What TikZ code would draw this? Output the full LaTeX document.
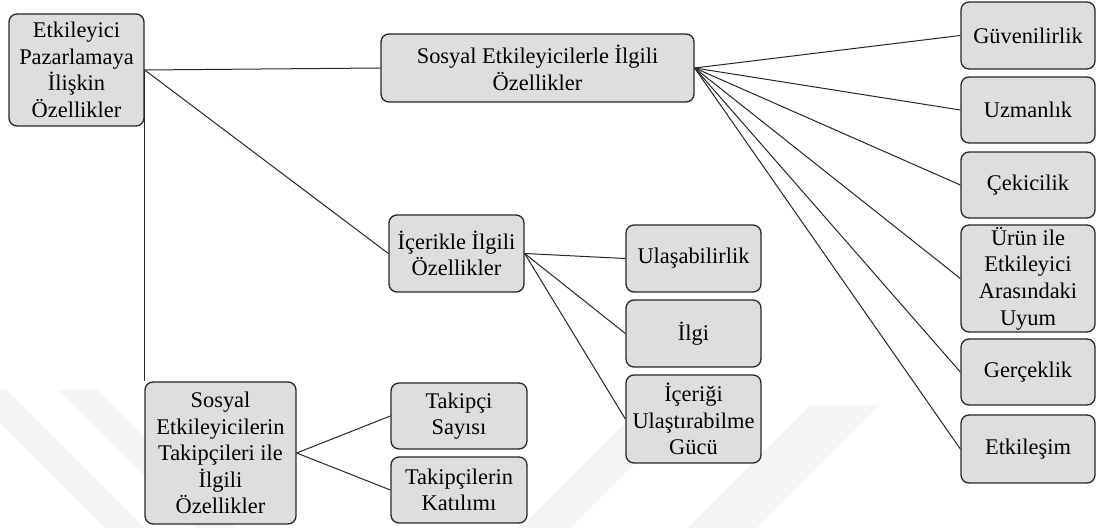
\documentclass[tikz,border=0pt]{standalone}
\usepackage{fontspec}
\setmainfont{Liberation Serif}
\begin{document}
\begin{tikzpicture}[x=0.5pt,y=-0.5pt,
  box/.style={draw=black!85, line width=0.65pt, fill=black!13, rounded corners=4pt,
    inner sep=0pt, align=center, font=\fontsize{11.2pt}{13.3pt}\selectfont},
  link/.style={draw=black!85, line width=0.5pt}]
\useasboundingbox (0,0) rectangle (1097,528);

% faint chevron bands in the background
\begin{scope}[fill=black!4]
  \fill (-33,390) -- (7,390) -- (145,528) -- (105,528) -- cycle;
  \fill (57,390) -- (97,390) -- (235,528) -- (195,528) -- cycle;
  \fill (520,528) -- (570,528) -- (708,390) -- (658,390) -- cycle;
  \fill (687,528) -- (757,528) -- (880,405) -- (810,405) -- cycle;
\end{scope}

% root
\node[box, minimum width=67.5pt, minimum height=56pt] (root) at (76.5,70)
  {Etkileyici\\Pazarlamaya\\İlişkin\\Özellikler};

% second level
\node[box, minimum width=156.5pt, minimum height=34pt] (infl) at (537.5,68)
  {Sosyal Etkileyicilerle İlgili\\Özellikler};
\node[box, minimum width=67.5pt, minimum height=38.5pt] (cont) at (456.5,253.5)
  {İçerikle İlgili\\Özellikler};
\node[box, minimum width=75.5pt, minimum height=71pt] (foll) at (220.5,453)
  {Sosyal\\Etkileyicilerin\\Takipçileri ile\\İlgili\\Özellikler};

% influencer attributes
\node[box, minimum width=67pt, minimum height=33.5pt] (guv) at (1028,35.5) {Güvenilirlik};
\node[box, minimum width=67pt, minimum height=33pt] (uzm) at (1028,110) {Uzmanlık};
\node[box, minimum width=67pt, minimum height=33pt] (cek) at (1028,185) {Çekicilik};
\node[box, minimum width=67pt, minimum height=53.5pt] (uyum) at (1028,278.5)
  {Ürün ile\\Etkileyici\\Arasındaki\\Uyum};
\node[box, minimum width=67pt, minimum height=33pt] (gerc) at (1028,372) {Gerçeklik};
\node[box, minimum width=67pt, minimum height=34pt] (etk) at (1028,449) {Etkileşim};

% content attributes
\node[box, minimum width=67.5pt, minimum height=33.5pt] (ulas) at (693.5,258.5) {Ulaşabilirlik};
\node[box, minimum width=67.5pt, minimum height=33.5pt] (ilgi) at (693.5,333.5) {İlgi};
\node[box, minimum width=67.5pt, minimum height=44pt] (guc) at (693.5,419)
  {İçeriği\\Ulaştırabilme\\Gücü};

% follower attributes
\node[box, minimum width=68pt, minimum height=33pt] (say) at (459,416) {Takipçi\\Sayısı};
\node[box, minimum width=68pt, minimum height=33pt] (kat) at (459,490) {Takipçilerin\\Katılımı};

% connectors
\draw[link] (root.east) -- (infl.west);
\draw[link] (root.east) -- (cont.west);
\draw[link] (root.east) -- (root.east |- foll.north);
\foreach \t in {guv,uzm,cek,uyum,gerc,etk}
  \draw[link] (infl.east) -- (\t.west);
\foreach \t in {ulas,ilgi,guc}
  \draw[link] (cont.east) -- (\t.west);
\foreach \t in {say,kat}
  \draw[link] (foll.east) -- (\t.west);
\end{tikzpicture}
\end{document}
